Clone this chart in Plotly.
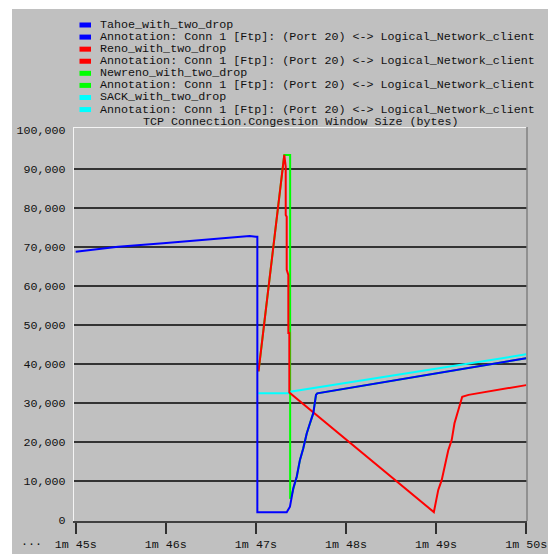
import plotly.graph_objects as go

# ---------------- data ----------------
series_names = ["Tahoe_with_two_drop", "Reno_with_two_drop",
                "Newreno_with_two_drop", "SACK_with_two_drop"]
annotation_label = "Annotation: Conn 1 [Ftp]: (Port 20) <-> Logical_Network_client"
series_colors = ["#0000FF", "#FF0000", "#00FF00", "#00FFFF"]

# time in seconds, congestion window in bytes
tahoe_t = [105.0, 105.47, 105.97, 106.44, 106.93, 107.0, 107.016, 107.016, 107.342,
           107.378, 107.397, 107.415, 107.453, 107.489, 107.526, 107.564, 107.6,
           107.637, 107.667, 107.681, 110.0]
tahoe_v = [68750, 70000, 70900, 71900, 72800, 72600, 72600, 1850, 1850,
           3300, 6300, 8000, 11000, 15300, 18300, 22100, 24700,
           27300, 32000, 32400, 41400]

reno_t = [107.029, 107.315, 107.331, 107.331, 107.342, 107.342, 107.36, 107.36,
          107.371, 107.371, 108.975, 109.024, 109.062, 109.099, 109.135, 109.173,
          109.204, 109.29, 109.36, 110.0]
reno_v = [38000, 93600, 90600, 78200, 77700, 64100, 62800, 47900,
          47900, 32600, 1900, 7600, 10100, 14400, 17800, 20400,
          24700, 31500, 32000, 34500]

newreno_t = [107.029, 107.315, 107.38, 107.38, 107.397, 107.415, 107.453, 107.489,
             107.526, 107.564, 107.6, 107.637, 107.667, 107.681, 110.0]
newreno_v = [38000, 93600, 93600, 5300, 6300, 8000, 11000, 15300,
             18300, 22100, 24700, 27300, 32000, 32400, 41400]

sack_t = [107.027, 107.36, 107.38, 110.0]
sack_v = [32400, 32400, 32800, 42400]

x_tick_vals = [105, 106, 107, 108, 109, 110]
x_tick_text = ["1m 45s", "1m 46s", "1m 47s", "1m 48s", "1m 49s", "1m 50s"]
y_tick_vals = [0, 10000, 20000, 30000, 40000, 50000, 60000, 70000, 80000, 90000, 100000]
y_grid_vals = [10000, 20000, 30000, 40000, 50000, 60000, 70000, 80000, 90000]
chart_title = "TCP Connection.Congestion Window Size (bytes)"

# ---------------- layout geometry (pixels) ----------------
W, H = 548, 554
L, R, T, B = 74, 527, 127, 521
FONT = "Liberation Mono"
FS = 11.7
GRAY = "#C0C0C0"


def px(x):
    return (x - L) / (R - L)


def py(y):
    return (B - y) / (B - T)


fig = go.Figure()

# draw order: green, cyan, red, blue (blue on top)
for name, t, v, c in [
    (series_names[2], newreno_t, newreno_v, series_colors[2]),
    (series_names[3], sack_t, sack_v, series_colors[3]),
    (series_names[1], reno_t, reno_v, series_colors[1]),
    (series_names[0], tahoe_t, tahoe_v, series_colors[0]),
]:
    fig.add_trace(go.Scatter(x=t, y=v, mode="lines", name=name,
                             line=dict(color=c, width=2), showlegend=False,
                             hoverinfo="skip"))

shapes = []
annotations = []

# white margins on left and top (figure background is gray elsewhere)
shapes.append(dict(type="rect", xref="paper", yref="paper", layer="below",
                   x0=px(0), x1=px(12), y0=py(H), y1=py(0),
                   fillcolor="white", line=dict(width=0)))
shapes.append(dict(type="rect", xref="paper", yref="paper", layer="below",
                   x0=px(0), x1=px(W), y0=py(9), y1=py(0),
                   fillcolor="white", line=dict(width=0)))
# plot frame: white top, gray right
shapes.append(dict(type="line", xref="paper", yref="paper",
                   x0=px(73.5), x1=px(527), y0=py(127.5), y1=py(127.5),
                   line=dict(color="#F4F4F4", width=1.2)))
shapes.append(dict(type="line", xref="paper", yref="paper",
                   x0=px(527), x1=px(527), y0=py(127), y1=py(521),
                   line=dict(color="#808080", width=1.5)))

# custom legend
line_y0, line_step = 25.0, 12.08
row = 0
for name, c in zip(series_names, series_colors):
    for label in (name, annotation_label):
        yc = line_y0 + row * line_step
        shapes.append(dict(type="rect", xref="paper", yref="paper",
                           x0=px(79.5), x1=px(91), y0=py(yc + 2.5), y1=py(yc - 2.5),
                           fillcolor=c, line=dict(width=0)))
        annotations.append(dict(text=label, xref="paper", yref="paper",
                                x=px(98.5), y=py(yc), xanchor="left", yanchor="middle",
                                showarrow=False, borderpad=0,
                                font=dict(family=FONT, size=FS, color="#111111")))
        row += 1

# title
annotations.append(dict(text=chart_title, xref="paper", yref="paper",
                        x=px(301), y=py(122), xanchor="center", yanchor="middle",
                        showarrow=False, borderpad=0,
                        font=dict(family=FONT, size=FS, color="#111111")))
# leading ellipsis of the time axis
annotations.append(dict(text="...", xref="paper", yref="paper",
                        x=px(31), y=py(542), xanchor="center", yanchor="middle",
                        showarrow=False, font=dict(family=FONT, size=FS, color="#111111")))

x_lo = 105 + (L - 75.7) / 90.1
x_hi = 105 + (R - 75.7) / 90.1
y_lo = (519.5 - B) / 3.895 * 1000
y_hi = (519.5 - T) / 3.895 * 1000

fig.update_layout(
    width=W, height=H, autosize=False,
    margin=dict(l=L, r=W - R, t=T, b=H - B, pad=0),
    paper_bgcolor=GRAY, plot_bgcolor=GRAY,
    font=dict(family=FONT, size=FS, color="#111111"),
    shapes=shapes, annotations=annotations,
    xaxis=dict(range=[x_lo, x_hi], tickvals=x_tick_vals, ticktext=x_tick_text,
               automargin=False,
               showgrid=False, zeroline=False, showline=True, linecolor="#404040",
               linewidth=1.5, ticks="outside", ticklen=11, tickwidth=1.5,
               tickcolor="#303030", tickfont=dict(family=FONT, size=FS, color="#111111"),
               fixedrange=True),
    yaxis=dict(range=[y_lo, y_hi], tickvals=y_tick_vals, tickformat=",d",
               automargin=False,
               showgrid=False, zeroline=False, showline=True, linecolor="#F4F4F4",
               linewidth=1.2, ticks="", ticklabelstandoff=5,
               tickfont=dict(family=FONT, size=FS, color="#111111"),
               minor=dict(tickvals=y_grid_vals, showgrid=True, gridcolor="#333333",
                          gridwidth=1.6, ticks=""),
               fixedrange=True),
    showlegend=False,
)

fig.write_html(
    "out.html",
    config={"displayModeBar": False, "responsive": False},
    post_script="document.body.style.margin='0';document.body.style.overflow='hidden';",
)
